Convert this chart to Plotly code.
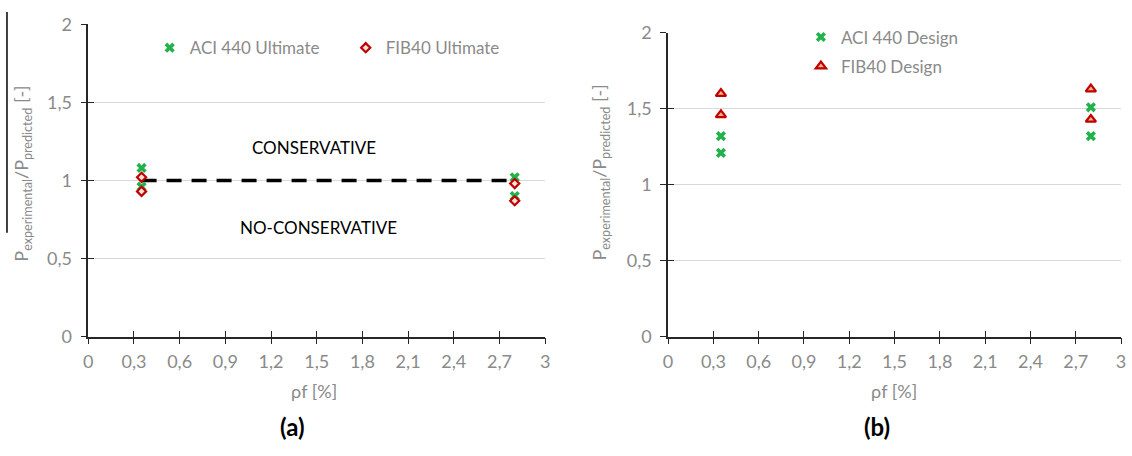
import plotly.graph_objects as go

# ---- data -------------------------------------------------------------
rho_a = [0.35, 0.35, 2.8, 2.8]
aci_ultimate = [1.08, 0.96, 1.02, 0.90]
fib_ultimate = [1.02, 0.93, 0.98, 0.87]

rho_b = [0.35, 0.35, 2.8, 2.8]
aci_design = [1.32, 1.21, 1.51, 1.32]
fib_design = [1.60, 1.46, 1.63, 1.43]

ref_x = [0.35, 2.8]
ref_y = [1.0, 1.0]

x_ticks = [0, 0.3, 0.6, 0.9, 1.2, 1.5, 1.8, 2.1, 2.4, 2.7, 3]
x_labels = ["0", "0,3", "0,6", "0,9", "1,2", "1,5", "1,8", "2,1", "2,4", "2,7", "3"]
y_ticks = [0, 0.5, 1, 1.5, 2]
y_labels = ["0", "0,5", "1", "1,5", "2"]

# ---- style ------------------------------------------------------------
W, H = 1132, 456
FONT = "Lato"
GREY = "#8a8a8a"
GREEN = "#22b24c"
RED = "#c00000"
AXIS = "#262626"


def px_x(p):
    return p / W


def px_y(p):
    return 1 - p / H


fig = go.Figure()

# panel (a)
fig.add_trace(go.Scatter(
    x=ref_x, y=ref_y, mode="lines", xaxis="x", yaxis="y",
    line=dict(color="black", width=3.5, dash="15px,10px"), showlegend=False,
    hoverinfo="skip"))
fig.add_trace(go.Scatter(
    x=rho_a, y=aci_ultimate, mode="markers", name="ACI 440 Ultimate",
    xaxis="x", yaxis="y", legend="legend",
    marker=dict(symbol="x", size=9, color=GREEN, line=dict(width=0))))
fig.add_trace(go.Scatter(
    x=rho_a, y=fib_ultimate, mode="markers", name="FIB40 Ultimate",
    xaxis="x", yaxis="y", legend="legend",
    marker=dict(symbol="diamond", size=7, color="#fde3d6",
                line=dict(color=RED, width=2.2))))

# panel (b)
fig.add_trace(go.Scatter(
    x=rho_b, y=aci_design, mode="markers", name="ACI 440 Design",
    xaxis="x2", yaxis="y2", legend="legend2", legendgroup="aci",
    marker=dict(symbol="x", size=9, color=GREEN, line=dict(width=0))))
fig.add_trace(go.Scatter(
    x=rho_b, y=fib_design, mode="markers", name="FIB40 Design",
    xaxis="x2", yaxis="y2", legend="legend2", legendgroup="fib",
    marker=dict(symbol="triangle-up", size=9, color="#f4b183",
                line=dict(color=RED, width=2.2))))

# empty traces so the inner-tick overlay axes get drawn
for xa, ya in [("x3", "y3"), ("x4", "y4")]:
    fig.add_trace(go.Scatter(x=[None], y=[None], xaxis=xa, yaxis=ya,
                             mode="markers", showlegend=False,
                             hoverinfo="skip"))

dom_a_x = [px_x(84), px_x(545)]
dom_a_y = [px_y(341), px_y(13)]
dom_b_x = [px_x(669), px_x(1126)]
dom_b_y = [px_y(341), px_y(22)]

tick_font = dict(family=FONT, size=18, color=GREY)


def xaxis(domain, anchor):
    return dict(domain=domain, anchor=anchor, range=[0, 3],
                tickvals=x_ticks, ticktext=x_labels, tickfont=tick_font,
                showline=True, linecolor=AXIS, linewidth=1.5,
                ticks="outside", ticklen=6, tickwidth=1.3, tickcolor=AXIS,
                ticklabelstandoff=2,
                showgrid=False, zeroline=False, fixedrange=True)


def yaxis(domain, anchor):
    return dict(domain=domain, anchor=anchor, range=[0, 2],
                tickvals=y_ticks, ticktext=y_labels, tickfont=tick_font,
                showline=True, linecolor=AXIS, linewidth=1.5,
                ticks="outside", ticklen=6, tickwidth=1.3, tickcolor=AXIS,
                ticklabelstandoff=5,
                showgrid=True, gridcolor="#d9d9d9", gridwidth=1,
                zeroline=False, fixedrange=True)


def x_inner(domain, over, anchor):
    return dict(domain=domain, overlaying=over, anchor=anchor, range=[0, 3],
                tickvals=x_ticks, showticklabels=False, ticks="inside",
                ticklen=6, tickwidth=1.3, tickcolor=AXIS, showline=False,
                showgrid=False, zeroline=False, fixedrange=True)


def y_inner(domain, over, anchor):
    return dict(domain=domain, overlaying=over, anchor=anchor, range=[0, 2],
                tickvals=y_ticks, showticklabels=False, ticks="inside",
                ticklen=6, tickwidth=1.3, tickcolor=AXIS, showline=False,
                showgrid=False, zeroline=False, fixedrange=True)


annotations = []
ytitle = "P<sub>experimental</sub>/P<sub>predicted</sub> [-]"
for xp, yp in [(18, 170), (601, 169)]:
    annotations.append(dict(
        text=ytitle, x=px_x(xp), y=px_y(yp), xref="paper", yref="paper",
        showarrow=False, textangle=-90, xanchor="center", yanchor="middle",
        font=dict(family=FONT, size=18, color=GREY)))
for xp in [312, 897]:
    annotations.append(dict(
        text="ρf [%]", x=px_x(xp), y=px_y(398), xref="paper", yref="paper",
        showarrow=False, xanchor="center", yanchor="middle",
        font=dict(family=FONT, size=18, color=GREY)))
for txt, xp in [("(a)", 290), ("(b)", 880)]:
    annotations.append(dict(
        text=f"<b>{txt}</b>", x=px_x(xp), y=px_y(436), xref="paper",
        yref="paper", showarrow=False, xanchor="center", yanchor="middle",
        font=dict(family=FONT, size=24, color="black")))
annotations.append(dict(
    text="CONSERVATIVE", x=1.48, y=1.21, xref="x", yref="y", showarrow=False,
    font=dict(family=FONT, size=17, color="black")))
annotations.append(dict(
    text="NO-CONSERVATIVE", x=1.51, y=0.70, xref="x", yref="y",
    showarrow=False, font=dict(family=FONT, size=17, color="black")))

legend_font = dict(family=FONT, size=17, color=GREY)

fig.update_layout(
    width=W, height=H,
    margin=dict(l=0, r=0, t=0, b=0),
    paper_bgcolor="white", plot_bgcolor="white",
    xaxis=xaxis(dom_a_x, "y"),
    yaxis=yaxis(dom_a_y, "x"),
    xaxis2=xaxis(dom_b_x, "y2"),
    yaxis2=yaxis(dom_b_y, "x2"),
    xaxis3=x_inner(dom_a_x, "x", "y3"),
    yaxis3=y_inner(dom_a_y, "y", "x3"),
    xaxis4=x_inner(dom_b_x, "x2", "y4"),
    yaxis4=y_inner(dom_b_y, "y2", "x4"),
    legend=dict(orientation="h", x=px_x(146), y=px_y(38),
                xanchor="left", yanchor="middle", entrywidth=151,
                bgcolor="rgba(0,0,0,0)", borderwidth=0, font=legend_font),
    legend2=dict(orientation="v", x=px_x(803), y=px_y(42),
                 xanchor="left", yanchor="middle", tracegroupgap=4,
                 bgcolor="rgba(0,0,0,0)", borderwidth=0, font=legend_font),
    annotations=annotations,
    shapes=[dict(type="line", xref="paper", yref="paper",
                 x0=px_x(2), x1=px_x(2), y0=1, y1=px_y(232),
                 line=dict(color="black", width=1.5))],
)

fig.write_html("out.html")
